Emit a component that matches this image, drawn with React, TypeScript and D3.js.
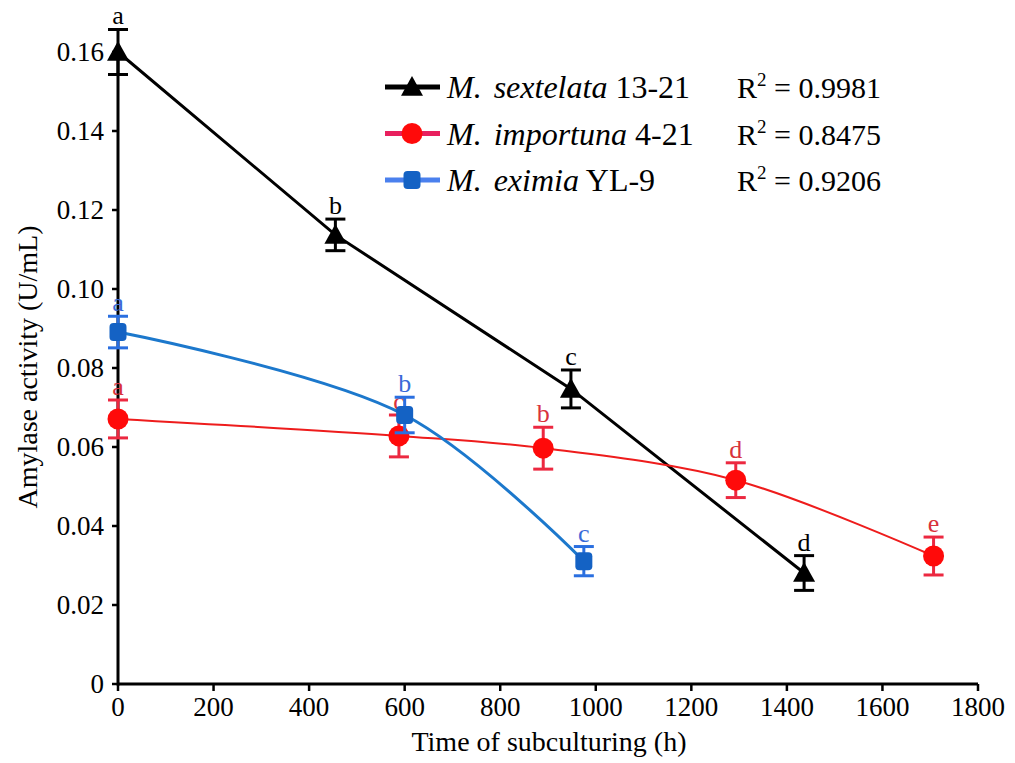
import React from "react";
import * as d3 from "d3";

const xTicks = [0, 200, 400, 600, 800, 1000, 1200, 1400, 1600, 1800];
const yTicks = [0, 0.02, 0.04, 0.06, 0.08, 0.1, 0.12, 0.14, 0.16];
const yTickLabels = ["0", "0.02", "0.04", "0.06", "0.08", "0.10", "0.12", "0.14", "0.16"];

const sextelataX = [0, 455, 948, 1436];
const sextelataY = [0.16, 0.1137, 0.0747, 0.0281];
const sextelataErr = [0.0057, 0.004, 0.0048, 0.0044];
const sextelataLetters = ["a", "b", "c", "d"];

const importunaX = [0, 588, 890, 1293, 1707];
const importunaY = [0.0671, 0.0628, 0.0597, 0.0516, 0.0324];
const importunaErr = [0.0048, 0.0053, 0.0053, 0.0044, 0.0048];
const importunaLetters = ["a", "c", "b", "d", "e"];

const eximiaX = [0, 600, 975];
const eximiaY = [0.0891, 0.0681, 0.0311];
const eximiaErr = [0.004, 0.0045, 0.0037];
const eximiaLetters = ["a", "b", "c"];

const legendNames = ["M. sextelata", "M. importuna", "M. eximia"];
const legendStrains = ["13-21", "4-21", "YL-9"];
const legendR2 = ["0.9981", "0.8475", "0.9206"];

const W = 1015;
const H = 763;
const FONT = '"Liberation Serif", "Times New Roman", Times, "DejaVu Serif", serif';

export default function App() {
  const x = d3.scaleLinear().domain([0, 1800]).range([118, 978]);
  const y = d3.scaleLinear().domain([0, 0.16]).range([684, 52]);

  const series = [
    {
      xs: sextelataX, ys: sextelataY, err: sextelataErr, letters: sextelataLetters,
      line: "#000", marker: "#000", errC: "#000", label: "#000", shape: "tri",
      curve: d3.curveLinear, lw: 3, legendLine: "#000",
    },
    {
      xs: importunaX, ys: importunaY, err: importunaErr, letters: importunaLetters,
      line: "#ee1c1c", marker: "#ff0a0a", errC: "#ec2840", label: "#d8323c", shape: "circle",
      curve: d3.curveCatmullRom, lw: 2, legendLine: "#e8205e",
    },
    {
      xs: eximiaX, ys: eximiaY, err: eximiaErr, letters: eximiaLetters,
      line: "#1c78cc", marker: "#1462c4", errC: "#2a6fe0", label: "#3a6ad8", shape: "square",
      curve: d3.curveCatmullRom, lw: 3, legendLine: "#4a80ee",
    },
  ];

  const marker = (shape: string, cx: number, cy: number, color: string, key?: string) => {
    if (shape === "tri") {
      const s = 11;
      return <path key={key} d={`M${cx},${cy - s} L${cx + s},${cy + s * 0.8} L${cx - s},${cy + s * 0.8} Z`} fill={color} />;
    }
    if (shape === "circle") return <circle key={key} cx={cx} cy={cy} r={10.5} fill={color} />;
    return <rect key={key} x={cx - 8.5} y={cy - 9} width={17} height={18} rx={4} fill={color} />;
  };

  return (
    <svg width={W} height={H} style={{ position: "absolute", left: 0, top: 0, background: "#fff", fontFamily: FONT }}>
      {/* axes */}
      <line x1={x(0)} x2={x(1800)} y1={y(0)} y2={y(0)} stroke="#000" strokeWidth={3} />
      <line x1={x(0)} x2={x(0)} y1={y(0) + 1.5} y2={y(0.16)} stroke="#000" strokeWidth={3} />
      {xTicks.map((t) => (
        <g key={"xt" + t}>
          <line x1={x(t)} x2={x(t)} y1={y(0)} y2={y(0) + 7} stroke="#000" strokeWidth={2.5} />
          <text x={x(t)} y={y(0) + 32} textAnchor="middle" fontSize={27}>{t}</text>
        </g>
      ))}
      {yTicks.map((t, i) => (
        <g key={"yt" + t}>
          <line x1={x(0) - 6} x2={x(0)} y1={y(t)} y2={y(t)} stroke="#000" strokeWidth={2.5} />
          <text x={x(0) - 14} y={y(t) + 9} textAnchor="end" fontSize={27}>{yTickLabels[i]}</text>
        </g>
      ))}
      <text x={549} y={751} textAnchor="middle" fontSize={28}>Time of subculturing (h)</text>
      <text transform={`translate(37,367) rotate(-90)`} textAnchor="middle" fontSize={28}>Amylase activity (U/mL)</text>

      {/* lines */}
      {series.map((s, si) => {
        const pts: [number, number][] = s.xs.map((v, i) => [x(v), y(s.ys[i])]);
        const path = d3.line().curve(s.curve)(pts) || "";
        return <path key={"l" + si} d={path} fill="none" stroke={s.line} strokeWidth={s.lw} />;
      })}

      {/* error bars, markers, letters */}
      {series.map((s, si) => (
        <g key={"s" + si}>
          {s.xs.map((v, i) => {
            const cx = x(v);
            const top = y(s.ys[i] + s.err[i]);
            const bot = y(s.ys[i] - s.err[i]);
            return (
              <g key={i}>
                <line x1={cx} x2={cx} y1={top} y2={bot} stroke={s.errC} strokeWidth={3} />
                <line x1={cx - 10} x2={cx + 10} y1={top} y2={top} stroke={s.errC} strokeWidth={3} />
                <line x1={cx - 10} x2={cx + 10} y1={bot} y2={bot} stroke={s.errC} strokeWidth={3} />
                {marker(s.shape, cx, y(s.ys[i]), s.marker)}
                <text x={cx} y={top - 5} textAnchor="middle" fontSize={26} fill={s.label}>{s.letters[i]}</text>
              </g>
            );
          })}
        </g>
      ))}

      {/* legend */}
      {series.map((s, i) => {
        const ly = 87 + i * 46.5;
        return (
          <g key={"lg" + i}>
            <line x1={385} x2={440} y1={ly} y2={ly} stroke={s.legendLine} strokeWidth={5} />
            {marker(s.shape, 412, ly, s.marker)}
            <text x={447} y={ly + 11} fontSize={32}>
              <tspan fontStyle="italic">{legendNames[i].split(" ")[0]}</tspan>
              <tspan fontStyle="italic" dx={12}>{legendNames[i].split(" ")[1]}</tspan>
              <tspan> {legendStrains[i]}</tspan>
            </text>
            <text x={737} y={ly + 11} fontSize={30}>
              R<tspan fontSize={19} dy={-12}>2</tspan>
              <tspan dy={12}> = {legendR2[i]}</tspan>
            </text>
          </g>
        );
      })}
    </svg>
  );
}
